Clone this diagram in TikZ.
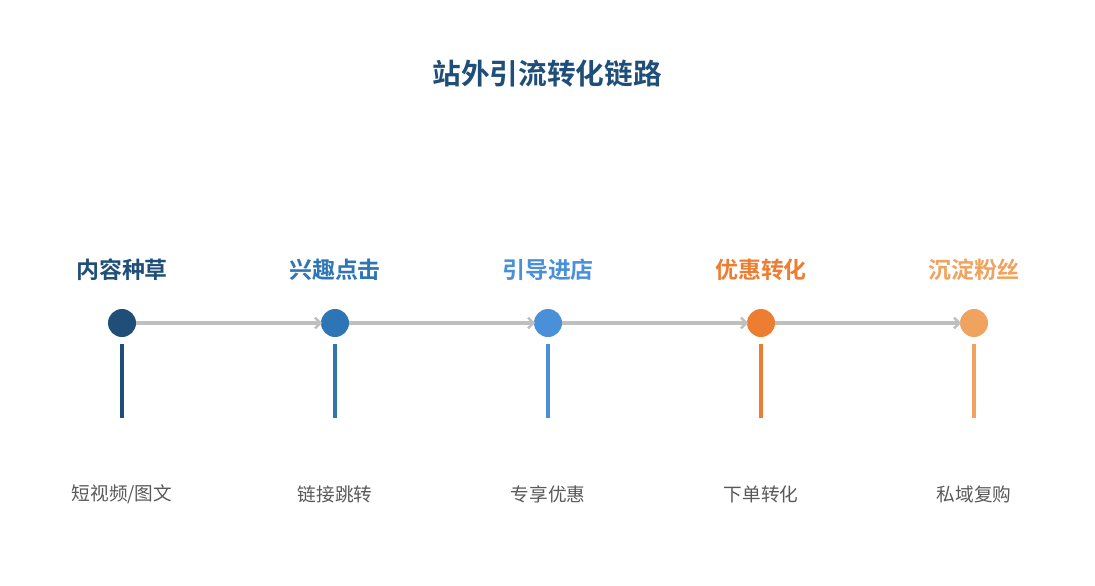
\documentclass[tikz,border=0pt]{standalone}
\usepackage{fontspec}
\setmainfont{Noto Sans CJK SC}
\newfontfamily\cjkbold{Noto Sans CJK SC Bold}
\usetikzlibrary{arrows.meta}
\definecolor{cA}{HTML}{1F4E79}
\definecolor{cB}{HTML}{2E75B6}
\definecolor{cC}{HTML}{4A90D9}
\definecolor{cD}{HTML}{ED7D31}
\definecolor{cE}{HTML}{F0A35E}
\definecolor{linegray}{HTML}{BFBFBF}
\definecolor{txtgray}{HTML}{595959}
\tikzset{
  dot/.style={circle, fill=#1, minimum size=28*0.75pt, inner sep=0pt},
  head/.style={text=#1, font=\cjkbold\fontsize{17.2pt}{19pt}\selectfont, inner sep=0pt},
  sub/.style={text=txtgray, font=\fontsize{14pt}{16pt}\selectfont, inner sep=0pt},
  bar/.style={line width=3pt, draw=#1},
  conn/.style={draw=linegray, line width=3pt, -{Straight Barb[length=4pt,width=8pt,line width=1.8pt]}, shorten >=-1pt},
}
\begin{document}
\begin{tikzpicture}[x=0.75pt,y=-0.75pt]
\useasboundingbox (0,0) rectangle (1095,585);
\node[text=cA, font=\cjkbold\fontsize{21.5pt}{24pt}\selectfont, inner sep=0pt] (title) at (547,74) {站外引流转化链路};
\foreach \i/\x/\c/\h/\s in {1/122/cA/内容种草/{短视频/图文}, 2/335/cB/兴趣点击/链接跳转, 3/548/cC/引导进店/专享优惠, 4/761/cD/优惠转化/下单转化, 5/974/cE/沉淀粉丝/私域复购}{
  \node[head=\c] (h\i) at (\x,270) {\h};
  \node[dot=\c] (n\i) at (\x,323) {};
  \coordinate (bt\i) at (\x,344);
  \coordinate (bb\i) at (\x,418);
  \draw[bar=\c] (bt\i) -- (bb\i);
  \node[sub] (s\i) at (\x,494) {\s};
}
\draw[conn] (n1) -- (n2);
\draw[conn] (n2) -- (n3);
\draw[conn] (n3) -- (n4);
\draw[conn] (n4) -- (n5);
\end{tikzpicture}
\end{document}
